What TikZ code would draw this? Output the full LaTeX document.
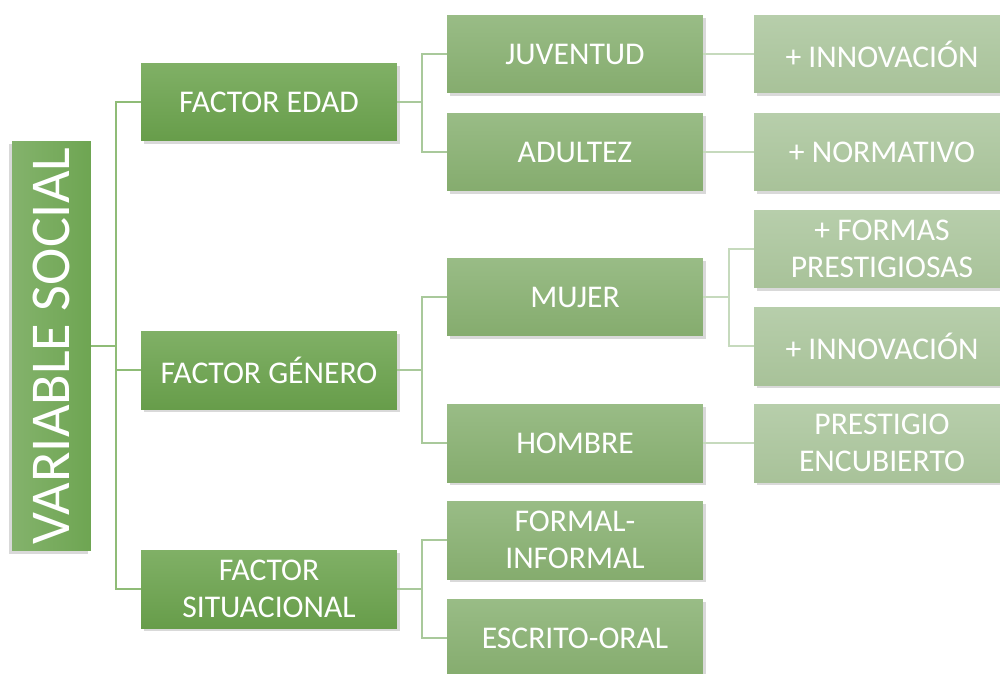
\documentclass[tikz,border=0pt]{standalone}
\usepackage{fontspec}
\setmainfont{Carlito}
\usetikzlibrary{shadows}
\definecolor{raizV}{HTML}{6EA552}
\definecolor{unoArr}{HTML}{80B066}
\definecolor{unoAba}{HTML}{679D4A}
\definecolor{dosArr}{HTML}{99BC86}
\definecolor{dosAba}{HTML}{85AC6E}
\definecolor{tresArr}{HTML}{B7CEAB}
\definecolor{tresAba}{HTML}{A8C299}
\definecolor{lineaA}{HTML}{8FBC77}
\definecolor{lineaB}{HTML}{A9C99B}
\definecolor{lineaC}{HTML}{C6DABD}
\begin{document}
\begin{tikzpicture}[x=0.02cm,y=-0.02cm,
				every node/.style={text=white,inner sep=0pt,align=center,
					font=\fontsize{18}{21}\selectfont},
				caja/.style={minimum width=5.12cm,minimum height=1.56cm,
					drop shadow={opacity=0.3,shadow xshift=1.5pt,shadow yshift=-1.5pt}},
				nivel1/.style={caja,top color=unoArr,bottom color=unoAba},
				nivel2/.style={caja,top color=dosArr,bottom color=dosAba},
				nivel3/.style={caja,top color=tresArr,bottom color=tresAba},
				rama/.style={line width=1.3pt}]
	      \useasboundingbox (0,0) rectangle (1000,673);
	      % Definir los nodos del esquema
	      \node[rotate=90,minimum width=8.2cm,minimum height=1.58cm,
		  top color=raizV!85!white,bottom color=raizV,shading angle=90,
		  drop shadow={opacity=0.3,shadow xshift=-1.5pt,shadow yshift=-1.5pt},
		  font=\fontsize{32}{35}\selectfont] (social) at (51.5,346) {VARIABLE SOCIAL};
	      % primer nivel
	      \node[nivel1] (edad) at (269,102) {FACTOR EDAD};
	      \node[nivel1] (genero) at (269,370) {FACTOR GÉNERO};
	      \node[nivel1] (situ) at (269,589) {FACTOR\\ SITUACIONAL};
	      % segundo nivel
	      \node[nivel2] (juventud) at (575,54) {JUVENTUD};
	      \node[nivel2] (adultez) at (575,152) {ADULTEZ};
	      \node[nivel2] (mujer) at (575,297) {MUJER};
	      \node[nivel2] (hombre) at (575,443) {HOMBRE};
	      \node[nivel2] (formal) at (575,540) {FORMAL-\\ INFORMAL};
	      \node[nivel2] (escrito) at (575,638) {ESCRITO-ORAL};
	      % tercer nivel
	      \node[nivel3] (innovA) at (882,54) {+ INNOVACIÓN};
	      \node[nivel3] (normativo) at (882,152) {+ NORMATIVO};
	      \node[nivel3] (formas) at (882,249) {+ FORMAS\\ PRESTIGIOSAS};
	      \node[nivel3] (innovB) at (882,346) {+ INNOVACIÓN};
	      \node[nivel3] (encubierto) at (882,443) {PRESTIGIO\\ ENCUBIERTO};
	      % Conectores
	      \draw[rama,lineaA] (social.south) -- ++(25,0) |- (edad.west);
	      \draw[rama,lineaA] (social.south) ++(25,0) |- (situ.west);
	      \draw[rama,lineaA] (social.south) ++(25,24) -- (genero.west);
	      \draw[rama,lineaB] (edad.east) -- ++(25,0) |- (juventud.west);
	      \draw[rama,lineaB] (edad.east) ++(25,0) |- (adultez.west);
	      \draw[rama,lineaB] (genero.east) -- ++(25,0) |- (mujer.west);
	      \draw[rama,lineaB] (genero.east) ++(25,0) |- (hombre.west);
	      \draw[rama,lineaB] (situ.east) -- ++(25,0) |- (formal.west);
	      \draw[rama,lineaB] (situ.east) ++(25,0) |- (escrito.west);
	      \draw[rama,lineaC] (juventud) -- (innovA);
	      \draw[rama,lineaC] (adultez) -- (normativo);
	      \draw[rama,lineaC] (mujer.east) -- ++(26,0) |- (formas.west);
	      \draw[rama,lineaC] (mujer.east) ++(26,0) |- (innovB.west);
	      \draw[rama,lineaC] (hombre) -- (encubierto);
\end{tikzpicture}
\end{document}
